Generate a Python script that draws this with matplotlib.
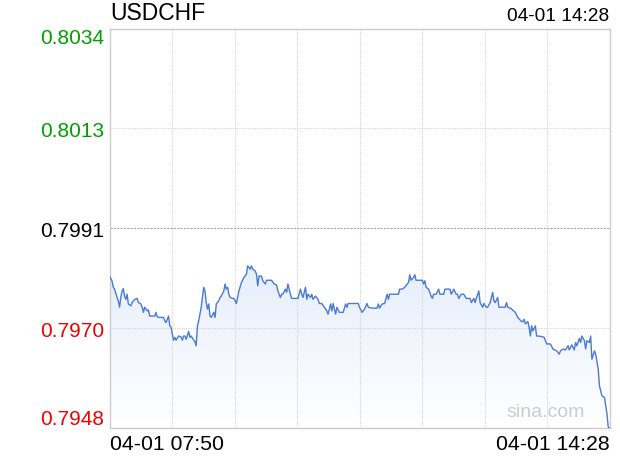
import numpy as np
import matplotlib
matplotlib.use("Agg")
import matplotlib.pyplot as plt
from matplotlib.colors import LinearSegmentedColormap

plt.rcParams['font.family'] = ['Liberation Sans', 'DejaVu Sans']

# minutes after 04-01 07:50 and USDCHF price
minutes = [0, 2, 3, 4, 6, 7, 8, 9, 10, 11, 12, 13, 14, 15, 17, 18, 20, 22, 23, 25,
           26, 27, 28, 30, 31, 32, 34, 36, 37, 38, 40, 43, 44, 45, 47, 48, 49, 50, 51, 52,
           53, 55, 57, 58, 59, 60, 61, 63, 64, 65, 67, 68, 69, 70, 71, 73, 75, 76, 77, 78,
           79, 80, 81, 83, 84, 85, 87, 88, 89, 91, 92, 93, 94, 95, 96, 98, 99, 101, 102, 103,
           105, 107, 109, 110, 112, 113, 114, 116, 117, 118, 119, 121, 122, 124, 125, 127,
           129, 131, 133, 134, 136, 137, 138, 140, 141, 142, 144, 145, 148, 150, 152, 153,
           154, 156, 157, 158, 160, 161, 162, 164, 166, 167, 169, 171, 173, 174, 176, 177,
           178, 180, 181, 183, 186, 188, 189, 190, 193, 198, 199, 201, 203, 205, 206, 209,
           213, 214, 215, 217, 219, 221, 222, 223, 226, 230, 231, 233, 235, 237, 238, 239,
           240, 242, 243, 244, 247, 249, 250, 251, 252, 254, 256, 257, 258, 260, 262, 263,
           266, 267, 271, 272, 274, 276, 277, 278, 280, 282, 284, 287, 288, 290, 291, 292,
           294, 295, 297, 298, 300, 301, 303, 305, 306, 307, 309, 310, 315, 316, 317, 319,
           320, 323, 325, 328, 329, 330, 331, 333, 334, 335, 336, 337, 339, 340, 341, 344,
           346, 348, 351, 353, 356, 358, 359, 361, 363, 365, 366, 368, 370, 371, 372, 374,
           375, 376, 378, 379, 380, 382, 383, 384, 386, 387, 389, 390, 392, 394, 396, 397, 398]
prices = [0.79807, 0.79797, 0.79783, 0.79779, 0.79761, 0.79754, 0.79740, 0.79761, 0.79775, 0.79780,
          0.79764, 0.79757, 0.79768, 0.79747, 0.79743, 0.79750, 0.79757, 0.79759, 0.79750, 0.79747,
          0.79740, 0.79729, 0.79740, 0.79732, 0.79734, 0.79721, 0.79721, 0.79721, 0.79729, 0.79719,
          0.79718, 0.79718, 0.79711, 0.79707, 0.79721, 0.79700, 0.79697, 0.79682, 0.79669, 0.79675,
          0.79669, 0.79678, 0.79676, 0.79669, 0.79678, 0.79678, 0.79671, 0.79688, 0.79675, 0.79678,
          0.79669, 0.79666, 0.79657, 0.79700, 0.79711, 0.79740, 0.79783, 0.79775, 0.79750, 0.79736,
          0.79747, 0.79721, 0.79718, 0.79729, 0.79718, 0.79747, 0.79754, 0.79761, 0.79764, 0.79775,
          0.79790, 0.79779, 0.79783, 0.79768, 0.79761, 0.79759, 0.79759, 0.79748, 0.79761, 0.79775,
          0.79793, 0.79804, 0.79811, 0.79829, 0.79822, 0.79829, 0.79822, 0.79818, 0.79811, 0.79786,
          0.79807, 0.79807, 0.79797, 0.79790, 0.79798, 0.79798,
          0.79798, 0.79790, 0.79788, 0.79775, 0.79761, 0.79768, 0.79768, 0.79779, 0.79772, 0.79790,
          0.79768, 0.79759, 0.79759, 0.79759, 0.79779, 0.79768, 0.79761, 0.79783, 0.79757, 0.79768,
          0.79761, 0.79768, 0.79757, 0.79764, 0.79757, 0.79748, 0.79748, 0.79740, 0.79732, 0.79725,
          0.79747, 0.79732, 0.79748, 0.79725, 0.79740, 0.79729, 0.79729, 0.79747, 0.79740, 0.79748,
          0.79748, 0.79748, 0.79740, 0.79729, 0.79736, 0.79748, 0.79740, 0.79738, 0.79738, 0.79747,
          0.79738, 0.79747, 0.79748, 0.79768, 0.79757, 0.79768, 0.79768, 0.79768, 0.79779, 0.79779,
          0.79783, 0.79790, 0.79793, 0.79810, 0.79798, 0.79804, 0.79810, 0.79798, 0.79798, 0.79798,
          0.79790, 0.79797, 0.79783, 0.79779, 0.79764, 0.79759, 0.79768, 0.79768, 0.79779, 0.79768,
          0.79768, 0.79779, 0.79779, 0.79768, 0.79779, 0.79768, 0.79768, 0.79759, 0.79768, 0.79768,
          0.79759, 0.79759, 0.79750, 0.79759, 0.79750, 0.79759, 0.79775, 0.79750, 0.79740, 0.79748,
          0.79740, 0.79740, 0.79750, 0.79772, 0.79754, 0.79750, 0.79761, 0.79740, 0.79740, 0.79750,
          0.79740, 0.79738, 0.79736, 0.79729, 0.79718, 0.79709, 0.79709, 0.79714, 0.79704, 0.79709,
          0.79697, 0.79678, 0.79700, 0.79689, 0.79700, 0.79678, 0.79678, 0.79677, 0.79675, 0.79661,
          0.79661, 0.79650, 0.79646, 0.79639, 0.79646, 0.79650, 0.79648, 0.79657, 0.79648, 0.79659,
          0.79648, 0.79664, 0.79657, 0.79673, 0.79664, 0.79678, 0.79668, 0.79650, 0.79668, 0.79664,
          0.79678, 0.79628, 0.79646, 0.79639, 0.79607, 0.79571, 0.79549, 0.79546, 0.79510, 0.79482,
          0.79480]

y_ticks = [0.80340, 0.80125, 0.79910, 0.79695, 0.79480]
y_labels = ['0.8034', '0.8013', '0.7991', '0.7970', '0.7948']
y_colors = ['#00a000', '#00a000', '#000000', '#f00000', '#f00000']
prev_close = 0.79910
symbol = 'USDCHF'
start_label = '04-01 07:50'
end_label = '04-01 14:28'

ymin, ymax = y_ticks[-1], y_ticks[0]
xmax = minutes[-1]

fig = plt.figure(figsize=(6.2, 4.6), dpi=100)
ax = fig.add_axes([109.5 / 620, 31 / 460, 500 / 620, 399.5 / 460])

# gradient under the line
poly = ax.fill_between(minutes, prices, ymin, facecolor='none', edgecolor='none')
cmap = LinearSegmentedColormap.from_list('fade', ['#ffffff', '#e6eefb'])
grad = np.linspace(0, 1, 256).reshape(-1, 1)
img = ax.imshow(grad, aspect='auto', cmap=cmap, origin='lower',
                extent=[0, xmax, ymin, max(prices)], zorder=1)
img.set_clip_path(poly.get_paths()[0], transform=ax.transData)

ax.plot(minutes, prices, color='#4a7ad2', lw=1.0, zorder=3)

ax.set_xlim(0, xmax)
ax.set_ylim(ymin, ymax)

# grid
ax.set_xticks(np.linspace(0, xmax, 9)[1:-1])
ax.set_xticklabels([])
ax.grid(axis='x', color='#d4d4d4', linestyle=(0, (1, 1)), lw=0.8)
for t in y_ticks[1:-1]:
    if t == prev_close:
        ax.axhline(t, color='#a8a8a8', linestyle=(0, (2, 1)), lw=0.8, zorder=2)
    else:
        ax.axhline(t, color='#d4d4d4', linestyle=(0, (1, 1)), lw=0.8, zorder=2)

ax.set_yticks(y_ticks)
ax.set_yticklabels(y_labels)
ax.tick_params(length=0, pad=4, labelsize=15)
for lab, c in zip(ax.get_yticklabels(), y_colors):
    lab.set_color(c)
ax.get_yticklabels()[0].set_va('top')
ax.get_yticklabels()[-1].set_va('bottom')

for s in ax.spines.values():
    s.set_color('#cccccc')
    s.set_linewidth(1.0)

ax.text(0.002, 1.012, symbol, transform=ax.transAxes, fontsize=16.5, ha='left', va='bottom')
ax.text(1.0, 1.012, end_label, transform=ax.transAxes, fontsize=13.8, ha='right', va='bottom')
ax.text(0.0, -0.015, start_label, transform=ax.transAxes, fontsize=15.3, ha='left', va='top')
ax.text(1.0, -0.015, end_label, transform=ax.transAxes, fontsize=15.3, ha='right', va='top')
ax.text(0.951, 0.021, 'sina.com', transform=ax.transAxes, fontsize=14, color='#cccccc',
        ha='right', va='bottom', zorder=4)

fig.savefig('out.png', dpi=100)
